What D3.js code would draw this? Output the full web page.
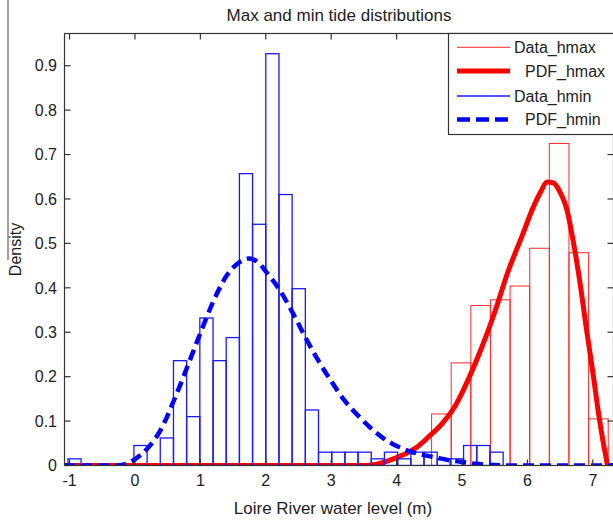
<!DOCTYPE html>
<html><head><meta charset="utf-8">
<script src="https://cdn.jsdelivr.net/npm/d3@7"></script>
<style>
body{margin:0;background:#fff}
svg{display:block}
text{font-family:"Liberation Sans",Arial,sans-serif;fill:#222}
</style>
</head><body>
<svg id="c" width="613" height="520"></svg>
<script>
const xTicks = [-1, 0, 1, 2, 3, 4, 5, 6, 7];
const yTicks = [0, 0.1, 0.2, 0.3, 0.4, 0.5, 0.6, 0.7, 0.8, 0.9];
const yTickLabels = ["0", "0.1", "0.2", "0.3", "0.4", "0.5", "0.6", "0.7", "0.8", "0.9"];

const hmaxBinEdges = [4.535, 4.835, 5.135, 5.435, 5.735, 6.035, 6.335, 6.635, 6.935, 7.235];
const hmaxDensity = [0.116, 0.231, 0.360, 0.373, 0.404, 0.489, 0.725, 0.479, 0.105];

const hminBinEdges = [-1.024, -0.823, -0.621, -0.42, -0.218, -0.016, 0.186, 0.387, 0.589, 0.79,
  0.992, 1.194, 1.395, 1.597, 1.798, 2.0, 2.202, 2.403, 2.605, 2.806, 3.008, 3.21, 3.411,
  3.613, 3.814, 4.016, 4.218, 4.419, 4.621, 4.822, 5.024, 5.226, 5.427, 5.629];
const hminDensity = [0.015, 0, 0, 0, 0, 0.045, 0, 0.062, 0.236, 0.110, 0.332, 0.236, 0.288,
  0.657, 0.543, 0.927, 0.61, 0.398, 0.125, 0.03, 0.03, 0.03, 0.03, 0.015, 0.03, 0.015,
  0.03, 0.03, 0.015, 0.015, 0.045, 0.045, 0.03];

const pdfHmaxX = [-1.08, 3.5, 3.7, 3.9, 4.1, 4.3, 4.5, 4.7, 4.9, 5.1, 5.3, 5.5, 5.7, 5.9, 6.1,
  6.2, 6.3, 6.4, 6.5, 6.6, 6.7, 6.8, 6.9, 7.0, 7.1, 7.2, 7.23, 7.33];
const pdfHmaxY = [0, 0, 0.003, 0.012, 0.024, 0.040, 0.066, 0.095, 0.135, 0.195, 0.265, 0.345,
  0.435, 0.51, 0.585, 0.615, 0.638, 0.636, 0.615, 0.578, 0.505, 0.415, 0.31, 0.21, 0.105, 0.02, 0, 0];

const pdfHminX = [-1.08, -0.3, -0.15, 0, 0.2, 0.4, 0.6, 0.8, 1.0, 1.2, 1.4, 1.6, 1.75, 1.9, 2.0,
  2.2, 2.4, 2.6, 2.8, 3.0, 3.2, 3.4, 3.6, 3.8, 4.0, 4.2, 4.4, 4.6, 4.8, 5.0, 5.2, 5.5, 5.8, 7.33];
const pdfHminY = [0, 0, 0.003, 0.014, 0.04, 0.082, 0.148, 0.222, 0.298, 0.37, 0.427, 0.458,
  0.466, 0.455, 0.437, 0.398, 0.347, 0.29, 0.237, 0.19, 0.147, 0.114, 0.085, 0.061, 0.044,
  0.032, 0.024, 0.018, 0.012, 0.008, 0.004, 0.001, 0, 0];

const legendLabels = ["Data_hmax", "PDF_hmax", "Data_hmin", "PDF_hmin"];

const svg = d3.select("#c");
const L = 64.5, R = 613.5, T = 33.5, B = 465.5;
const x = d3.scaleLinear().domain([-1.077, 7.316]).range([L, R]);
const y = d3.scaleLinear().domain([0, 0.9725]).range([B, T]);

const RED = "#ff2a2a", BLUE = "#1a1aff", AX = "#333";

// stray border line at the left of the figure
svg.append("line").attr("x1", 8).attr("x2", 8).attr("y1", 0).attr("y2", 260)
  .attr("stroke", "#444").attr("stroke-width", 1);

svg.append("defs").append("clipPath").attr("id", "clip")
  .append("rect").attr("x", L).attr("y", T).attr("width", R - L).attr("height", B - T);

const plot = svg.append("g").attr("clip-path", "url(#clip)");

// red histogram
plot.append("g").selectAll("rect").data(hmaxDensity).join("rect")
  .attr("x", (d, i) => x(hmaxBinEdges[i]))
  .attr("width", (d, i) => x(hmaxBinEdges[i + 1]) - x(hmaxBinEdges[i]))
  .attr("y", d => y(d)).attr("height", d => y(0) - y(d))
  .attr("fill", "none").attr("stroke", RED).attr("stroke-width", 1);

const line = (xs, ys) => d3.line().x((d, i) => x(xs[i])).y((d, i) => y(ys[i])).curve(d3.curveMonotoneX)(ys);

plot.append("path").attr("d", line(pdfHmaxX, pdfHmaxY))
  .attr("fill", "none").attr("stroke", "#ff0000").attr("stroke-width", 5).attr("stroke-linejoin", "round");

// blue histogram
plot.append("g").selectAll("rect").data(hminDensity.map((d, i) => ({ d, i })).filter(o => o.d > 0)).join("rect")
  .attr("x", o => x(hminBinEdges[o.i]))
  .attr("width", o => x(hminBinEdges[o.i + 1]) - x(hminBinEdges[o.i]))
  .attr("y", o => y(o.d)).attr("height", o => y(0) - y(o.d))
  .attr("fill", "none").attr("stroke", BLUE).attr("stroke-width", 1.3);

plot.append("path").attr("d", line(pdfHminX, pdfHminY))
  .attr("fill", "none").attr("stroke", "#0000ff").attr("stroke-width", 4.5)
  .attr("stroke-dasharray", "11,6");

// frame
svg.append("rect").attr("x", L).attr("y", T).attr("width", R - L).attr("height", B - T)
  .attr("fill", "none").attr("stroke", AX).attr("stroke-width", 1.2);

// ticks (inside, all four sides)
const tl = 6;
const tg = svg.append("g").attr("stroke", AX).attr("stroke-width", 1.2);
xTicks.forEach(v => {
  tg.append("line").attr("x1", x(v)).attr("x2", x(v)).attr("y1", B).attr("y2", B - tl);
  tg.append("line").attr("x1", x(v)).attr("x2", x(v)).attr("y1", T).attr("y2", T + tl);
});
yTicks.forEach(v => {
  tg.append("line").attr("x1", L).attr("x2", L + tl).attr("y1", y(v)).attr("y2", y(v));
  tg.append("line").attr("x1", R).attr("x2", R - tl).attr("y1", y(v)).attr("y2", y(v));
});

// tick labels
svg.append("g").selectAll("text").data(xTicks).join("text")
  .attr("x", d => x(d)).attr("y", 486).attr("text-anchor", "middle")
  .attr("font-size", 16).text(d => d);
svg.append("g").selectAll("text").data(yTicks).join("text")
  .attr("x", 57).attr("y", d => y(d) + 5.7).attr("text-anchor", "end")
  .attr("font-size", 16).text((d, i) => yTickLabels[i]);

// titles
svg.append("text").attr("x", (L + R) / 2).attr("y", 20.5).attr("text-anchor", "middle")
  .attr("font-size", 17).text("Max and min tide distributions");
svg.append("text").attr("x", (L + R) / 2 - 6).attr("y", 514).attr("text-anchor", "middle")
  .attr("font-size", 17).text("Loire River water level (m)");
svg.append("text").attr("transform", `translate(21,${(T + B) / 2}) rotate(-90)`)
  .attr("text-anchor", "middle").attr("font-size", 16).text("Density");

// legend
const lg = svg.append("g");
lg.append("rect").attr("x", 448.5).attr("y", 33.5).attr("width", 170).attr("height", 101)
  .attr("fill", "#fff").attr("stroke", AX).attr("stroke-width", 1.2);
const legY = [47.3, 71, 96, 119.5];
const legStyle = [
  { c: RED, w: 1, dash: null, tx: 514 },
  { c: "#ff0000", w: 5, dash: null, tx: 525 },
  { c: BLUE, w: 1.3, dash: null, tx: 514 },
  { c: "#0000ff", w: 4.5, dash: "13,6", tx: 525 }
];
legendLabels.forEach((lab, i) => {
  const s = legStyle[i];
  lg.append("line").attr("x1", 457).attr("x2", 510).attr("y1", legY[i]).attr("y2", legY[i])
    .attr("stroke", s.c).attr("stroke-width", s.w).attr("stroke-dasharray", s.dash);
  lg.append("text").attr("x", s.tx).attr("y", legY[i] + 5.8).attr("font-size", 16).text(lab);
});
</script>
</body></html>
